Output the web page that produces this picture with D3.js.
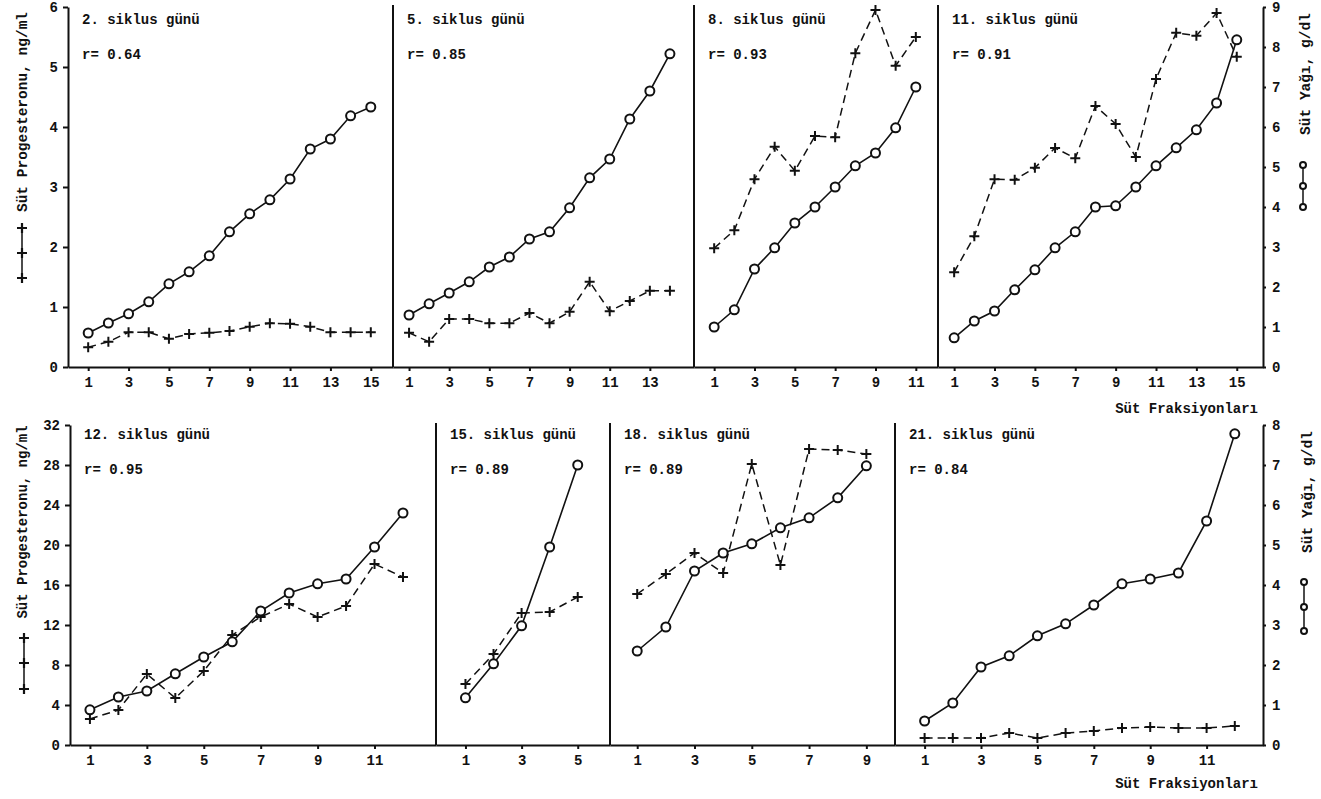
<!DOCTYPE html>
<html>
<head>
<meta charset="utf-8">
<script src="https://cdn.jsdelivr.net/npm/d3@7"></script>
<style>
body { margin: 0; background: #fff; }
text { font-family: "Liberation Mono", "DejaVu Sans Mono", monospace; font-weight: bold; fill: #111; }
</style>
</head>
<body>
<script>
// panel titles and correlation coefficients
var titles = ["2. siklus günü", "5. siklus günü", "8. siklus günü", "11. siklus günü",
              "12. siklus günü", "15. siklus günü", "18. siklus günü", "21. siklus günü"]
var rValues = ["0.64", "0.85", "0.93", "0.91", "0.95", "0.89", "0.89", "0.84"]

// süt yağı, g/dl (circles, right axis)
var fat2  = [0.85, 1.1, 1.33, 1.63, 2.08, 2.38, 2.78, 3.38, 3.83, 4.18, 4.7, 5.45, 5.7, 6.28, 6.5]
var fat5  = [1.3, 1.58, 1.85, 2.13, 2.5, 2.75, 3.2, 3.38, 3.98, 4.73, 5.2, 6.2, 6.9, 7.83]
var fat8  = [1.0, 1.43, 2.45, 2.98, 3.6, 4.0, 4.5, 5.03, 5.35, 5.98, 7.0]
var fat11 = [0.73, 1.15, 1.4, 1.93, 2.43, 2.98, 3.38, 4.0, 4.03, 4.5, 5.03, 5.48, 5.93, 6.6, 8.18]
var fat12 = [0.88, 1.2, 1.35, 1.78, 2.2, 2.58, 3.35, 3.8, 4.03, 4.15, 4.95, 5.8]
var fat15 = [1.18, 2.03, 2.98, 4.95, 7.0]
var fat18 = [2.35, 2.95, 4.35, 4.8, 5.03, 5.43, 5.68, 6.18, 6.98]
var fat21 = [0.6, 1.05, 1.95, 2.23, 2.73, 3.03, 3.5, 4.03, 4.15, 4.3, 5.6, 7.78]

// süt progesteronu, ng/ml (crosses, left axis)
var prog2  = [0.33, 0.42, 0.58, 0.58, 0.47, 0.55, 0.57, 0.6, 0.67, 0.73, 0.72, 0.67, 0.58, 0.58, 0.58]
var prog5  = [0.57, 0.42, 0.8, 0.8, 0.73, 0.73, 0.9, 0.73, 0.92, 1.42, 0.93, 1.1, 1.27, 1.27]
var prog8  = [1.98, 2.28, 3.13, 3.67, 3.27, 3.85, 3.83, 5.23, 5.95, 5.02, 5.5]
var prog11 = [1.58, 2.18, 3.13, 3.12, 3.32, 3.65, 3.48, 4.35, 4.05, 3.5, 4.8, 5.57, 5.52, 5.9, 5.17]
var prog12 = [2.6, 3.5, 7.1, 4.7, 7.4, 11.0, 12.8, 14.1, 12.8, 13.9, 18.1, 16.8]
var prog15 = [6.1, 9.1, 13.2, 13.3, 14.8]
var prog18 = [15.1, 17.1, 19.2, 17.2, 28.1, 18.0, 29.6, 29.5, 29.1]
var prog21 = [0.7, 0.7, 0.7, 1.2, 0.7, 1.2, 1.4, 1.7, 1.8, 1.7, 1.7, 1.9]

// axis ticks
var progTicksTop = [0, 1, 2, 3, 4, 5, 6]
var fatTicksTop = [0, 1, 2, 3, 4, 5, 6, 7, 8, 9]
var progTicksBottom = [0, 4, 8, 12, 16, 20, 24, 28, 32]
var fatTicksBottom = [0, 1, 2, 3, 4, 5, 6, 7, 8]

var svg = d3.select("body").append("svg").attr("width", 1321).attr("height", 799)

var rows = [
    {base: 367, top: 7, left: 68, right: 1263, progMax: 6, fatMax: 9,
     progTicks: progTicksTop, fatTicks: fatTicksTop, bounds: [68, 393, 694, 938, 1263]},
    {base: 745, top: 425, left: 70, right: 1263, progMax: 32, fatMax: 8,
     progTicks: progTicksBottom, fatTicks: fatTicksBottom, bounds: [70, 436, 610, 895, 1263]}
]

var panels = [
    {row: 0, col: 0, fat: fat2,  prog: prog2,  dom: [0, 16.1]},
    {row: 0, col: 1, fat: fat5,  prog: prog5,  dom: [0.2, 15.2]},
    {row: 0, col: 2, fat: fat8,  prog: prog8,  dom: [0, 12.1]},
    {row: 0, col: 3, fat: fat11, prog: prog11, dom: [0.2, 16.3]},
    {row: 1, col: 0, fat: fat12, prog: prog12, dom: [0.3, 13.16]},
    {row: 1, col: 1, fat: fat15, prog: prog15, dom: [-0.05, 6.15]},
    {row: 1, col: 2, fat: fat18, prog: prog18, dom: [0.05, 10.0]},
    {row: 1, col: 3, fat: fat21, prog: prog21, dom: [-0.05, 13.0]}
]

function styleAxis(g) {
    g.selectAll("path, line").attr("stroke", "#111").attr("stroke-width", 2)
    g.selectAll("text").attr("font-size", 14).attr("font-family", null).attr("fill", "#111")
}

var intFmt = d3.format("d")

rows.forEach(function(r) {
    r.yProg = d3.scaleLinear().domain([0, r.progMax]).range([r.base, r.top])
    r.yFat = d3.scaleLinear().domain([0, r.fatMax]).range([r.base, r.top])

    svg.append("g").attr("transform", "translate(" + r.left + ",0)")
        .call(d3.axisLeft(r.yProg).tickValues(r.progTicks).tickFormat(intFmt)
            .tickSize(5).tickSizeOuter(0).tickPadding(5))
        .call(styleAxis)

    svg.append("g").attr("transform", "translate(" + r.right + ",0)")
        .call(d3.axisRight(r.yFat).tickValues(r.fatTicks).tickFormat(intFmt)
            .tickSize(3).tickSizeOuter(0).tickPadding(6))
        .call(styleAxis)

    // panel separators
    svg.append("g").selectAll("line")
        .data(r.bounds.slice(1, 4))
        .enter().append("line")
        .attr("x1", d => d).attr("x2", d => d)
        .attr("y1", r.top - 2).attr("y2", r.base)
        .attr("stroke", "#111").attr("stroke-width", 2)
})

var crossPath = "M-5,0H5M0,-5V5"

panels.forEach(function(p, i) {
    var r = rows[p.row]
    var x0 = r.bounds[p.col], x1 = r.bounds[p.col + 1]
    var x = d3.scaleLinear().domain(p.dom).range([x0, x1])
    var n = Math.max(p.fat.length, p.prog.length)
    var odds = d3.range(1, n + 1, 2)

    svg.append("g").attr("transform", "translate(0," + r.base + ")")
        .call(d3.axisBottom(x).tickValues(odds).tickSize(4).tickSizeOuter(0).tickPadding(6).tickFormat(intFmt))
        .call(styleAxis)

    var g = svg.append("g")

    var progLine = d3.line().x((d, j) => x(j + 1)).y(d => r.yProg(d))
    g.append("path").datum(p.prog)
        .attr("d", progLine)
        .attr("fill", "none").attr("stroke", "#111")
        .attr("stroke-width", 1.5).attr("stroke-dasharray", "8,5")

    g.selectAll(".cross").data(p.prog).enter().append("path")
        .attr("class", "cross")
        .attr("d", crossPath)
        .attr("transform", (d, j) => "translate(" + x(j + 1) + "," + r.yProg(d) + ")")
        .attr("stroke", "#111").attr("stroke-width", 2).attr("fill", "none")

    var fatLine = d3.line().x((d, j) => x(j + 1)).y(d => r.yFat(d))
    g.append("path").datum(p.fat)
        .attr("d", fatLine)
        .attr("fill", "none").attr("stroke", "#111").attr("stroke-width", 1.6)

    g.selectAll("circle").data(p.fat).enter().append("circle")
        .attr("cx", (d, j) => x(j + 1))
        .attr("cy", d => r.yFat(d))
        .attr("r", 4.5)
        .attr("fill", "#fff").attr("stroke", "#111").attr("stroke-width", 2)

    var ty = p.row == 0 ? 24 : 439
    svg.append("text").attr("x", x0 + 14).attr("y", ty).attr("font-size", 14).text(titles[i])
    svg.append("text").attr("x", x0 + 14).attr("y", ty + 35).attr("font-size", 14).text("r= " + rValues[i])
})

// axis titles
function vText(cx, cy, size, label) {
    svg.append("text")
        .attr("transform", "translate(" + cx + "," + cy + ") rotate(-90)")
        .attr("text-anchor", "middle")
        .attr("dy", "0.35em")
        .attr("font-size", size)
        .text(label)
}
vText(22, 112, 14.5, "Süt Progesteronu, ng/ml")
vText(22, 522, 14, "Süt Progesteronu, ng/ml")
vText(1305, 74, 14.5, "Süt Yağı, g/dl")
vText(1307, 492, 14.5, "Süt Yağı, g/dl")

svg.selectAll(".xlab").data([408, 783]).enter().append("text")
    .attr("class", "xlab")
    .attr("x", 1258).attr("y", d => d + 5)
    .attr("text-anchor", "end")
    .attr("font-size", 14)
    .text("Süt Fraksiyonları")

// legend glyphs next to axis titles
var crossLegends = [{x: 22, y: [228, 253, 278]}, {x: 24, y: [638, 663, 689]}]
crossLegends.forEach(function(l) {
    svg.append("line").attr("x1", l.x).attr("x2", l.x).attr("y1", l.y[0]).attr("y2", l.y[2])
        .attr("stroke", "#111").attr("stroke-width", 1.5)
    svg.selectAll(null).data(l.y).enter().append("path")
        .attr("d", crossPath)
        .attr("transform", d => "translate(" + l.x + "," + d + ")")
        .attr("stroke", "#111").attr("stroke-width", 2.2)
})
var circleLegends = [{x: 1303, y: [165, 186, 207]}, {x: 1304, y: [582, 607, 631]}]
circleLegends.forEach(function(l) {
    svg.append("line").attr("x1", l.x).attr("x2", l.x).attr("y1", l.y[0]).attr("y2", l.y[2])
        .attr("stroke", "#111").attr("stroke-width", 1.5)
    svg.selectAll(null).data(l.y).enter().append("circle")
        .attr("cx", l.x).attr("cy", d => d).attr("r", 3)
        .attr("fill", "#fff").attr("stroke", "#111").attr("stroke-width", 2)
})
</script>
</body>
</html>
